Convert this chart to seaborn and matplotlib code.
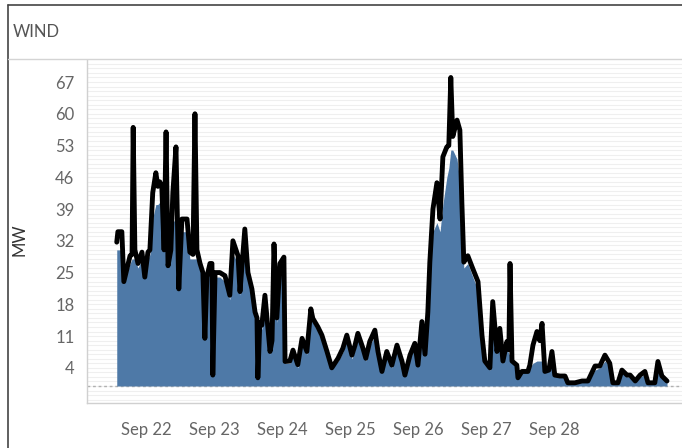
import pandas as pd
import matplotlib.pyplot as plt
import matplotlib.dates as mdates
from matplotlib.lines import Line2D
import seaborn as sns

# hours after Sep 22 00:00
hours = [-10.3, -9.9, -8.5, -7.8, -5.6, -4.9, -4.5, -3.9, -2.8, -1.4, -0.4, 0.7,
         1.4, 2.4, 3.5, 4.2, 4.9, 5.6, 6.4, 7.1, 7.8, 8.8, 9.5, 10.6,
         11.6, 12.7, 14.5, 15.5, 16.6, 17.3, 18, 19.1, 20.1, 20.8, 21.5, 22.6,
         23.3, 23.6, 24.4, 26.1, 27.9, 29.6, 30.7, 32.5, 33.2, 34.9, 36, 37.4,
         38.5, 39.2, 39.5, 40.2, 40.9, 42, 43.8, 44.5, 45.2, 46.2, 47.3, 48.7,
         49.1, 50.8, 51.9, 53.6, 55.1, 56.8, 58.2, 58.9, 60.7, 62.1, 63.9, 65.6,
         67.8, 69.5, 70.9, 72.7, 73.8, 74.8, 76.6, 77.6, 79, 80.8, 81.9, 83.3,
         85, 86.8, 88.6, 90.4, 91.4, 93.2, 94.9, 96, 97.4, 98.5, 99.5, 100.2,
         101.3, 102.7, 103.8, 104.8, 106.2, 106.9, 107.6, 108.3, 109.8, 110.8, 111.5, 112.2,
         113.6, 115.4, 117.2, 118.6, 119.6, 121.4, 122.4, 123.9, 124.9, 126, 127.4, 128.1,
         128.5, 129.2, 130.9, 131.3, 132.7, 134.8, 135.5, 136.6, 138, 139, 139.8, 140.8,
         142.2, 143.3, 144.3, 146.1, 147.9, 148.9, 151.4, 153.9, 156, 158.5, 160.2, 162,
         163.7, 164.8, 166.6, 168, 169.8, 170.9, 172.7, 174.4, 176.1, 177.2, 179.6, 180.7,
         182.1, 183.9]

line_mw = [31.7, 34, 34, 23, 28.7, 29, 57, 30, 27, 29.5, 24, 29.5,
           30, 42.6, 47, 44, 45, 44, 30, 56, 26.5, 30, 42.6, 52.7,
           21.4, 36.8, 36.8, 29.5, 29, 60, 30, 27, 25, 10.5, 24, 27,
           27, 2.4, 25, 25, 24.3, 20, 32, 28.7, 20.8, 34.6, 25, 21.4,
           16.3, 15, 1.8, 14, 13.4, 20, 7.6, 10, 31.3, 15, 27, 28.4,
           5.4, 5.5, 7.9, 4.7, 10.5, 7.6, 17, 14.9, 13, 11.2, 7.6, 4,
           6.1, 8.3, 11.2, 6.8, 9, 11.6, 8.3, 6.1, 9.8, 12.3, 7.6, 3.2,
           7.6, 4.6, 9, 5.4, 2.4, 6.8, 9.4, 4.6, 14.2, 7, 16.3, 27.3,
           39, 44.8, 36.8, 50.5, 52.7, 53, 68, 55, 58.6, 56.4, 40.5, 27.3,
           28.7, 25.8, 23, 11.2, 5.5, 4, 18.6, 7.6, 12.7, 5.5, 9.8, 8,
           27, 5.5, 4.6, 1.8, 3.2, 3.2, 4.6, 9, 12, 10, 13.8, 3.2,
           3.5, 7.6, 2.4, 2.2, 2.2, 0.7, 0.7, 1.1, 1.1, 4.4, 4.4, 6.8,
           5, 0.7, 0.7, 3.5, 2.4, 2.4, 1.1, 2.4, 3.2, 0.7, 0.7, 5.4,
           2.2, 1.1]

area_mw = [30, 30, 30, 23, 27, 28, 28, 28, 26, 28, 24, 28,
           29, 37, 40, 40, 40.5, 38, 30, 30, 26, 29, 36, 37,
           22, 34, 34, 28, 28, 28, 28, 26, 24, 12, 23, 26,
           26, 4, 24, 24, 23, 19, 29, 27, 20, 30, 24, 20,
           15, 14, 3, 13, 12.5, 18, 7, 9, 22, 14, 24, 25,
           5, 5, 7, 4, 9, 7, 15, 14, 12, 10, 7, 4,
           5.5, 7.5, 10, 6, 8, 10.5, 7.5, 5.5, 9, 11, 7, 3,
           7, 4, 8, 5, 2.5, 6, 8.5, 4.5, 12, 7, 15, 25,
           34, 36, 34, 40, 46, 48, 52, 52, 50, 45, 35, 26,
           27, 24, 21, 10, 5, 3.5, 14, 7, 11, 5, 8.5, 7,
           7, 5, 4, 1.5, 3, 3, 4, 5, 5.5, 5.5, 5.5, 3,
           3.3, 6, 2.2, 2, 2, 0.5, 0.5, 1, 1, 3.5, 4, 5.5,
           4.5, 0.5, 0.5, 3, 2, 2, 1, 2, 2.5, 0.5, 0.5, 3,
           2, 1]

y_ticks = [4, 11, 18, 25, 32, 39, 46, 53, 60, 67]
x_ticks = ['2019-09-22', '2019-09-23', '2019-09-24', '2019-09-25',
           '2019-09-26', '2019-09-27', '2019-09-28']

start = pd.Timestamp('2019-09-22')
df = pd.DataFrame({'time': start + pd.to_timedelta(hours, unit='h'),
                   'line': line_mw, 'area': area_mw})

sns.set_style('white')
plt.rcParams['font.family'] = ['Lato', 'DejaVu Sans']

W, H = 682, 448
fig = plt.figure(figsize=(W / 100, H / 100), dpi=100)
ax = fig.add_axes([87 / W, 1 - 403 / H, 1 - 87 / W, (403 - 60) / H])

# faint background gridlines every 1 MW
for v in range(-3, 72):
    ax.axhline(v, color='#efefef', lw=0.8, zorder=0)
ax.axhline(0, color='#b0b0b0', lw=1, ls=(0, (2, 2)), zorder=1)

ax.fill_between(df['time'], 0, df['area'], color='#4e79a7', lw=0, zorder=2)
sns.lineplot(data=df, x='time', y='line', ax=ax, color='black', lw=3.5,
             solid_joinstyle='round', solid_capstyle='round', zorder=3)

ax.set_ylim(-3.75, 71.85)
ax.set_xlim(start + pd.Timedelta(hours=-20.8), start + pd.Timedelta(hours=189.2))
ax.set_yticks(y_ticks)
ax.set_xticks(pd.to_datetime(x_ticks))
ax.xaxis.set_major_formatter(mdates.DateFormatter('%b %d'))
ax.tick_params(axis='x', length=5, width=0.8, color='#d9d9d9', pad=9,
               labelsize=12, labelcolor='#666666')
ax.tick_params(axis='y', length=0, pad=9, labelsize=12, labelcolor='#666666')
ax.set_xlabel('')
ax.set_ylabel('')

for s in ['top', 'right']:
    ax.spines[s].set_visible(False)
for s in ['left', 'bottom']:
    ax.spines[s].set_color('#d0d0d0')
    ax.spines[s].set_linewidth(1)

# outer frame and header
fig.add_artist(Line2D([8 / W, 1], [1 - 5 / H, 1 - 5 / H], color='#444444', lw=1.2))
fig.add_artist(Line2D([8 / W, 8 / W], [0, 1 - 5 / H], color='#444444', lw=1.2))
fig.add_artist(Line2D([8 / W, 1], [1 - 59 / H, 1 - 59 / H], color='#d4d4d4', lw=1))
fig.text(13 / W, 1 - 32 / H, 'WIND', fontsize=12, color='#555555', va='center', ha='left')
fig.text(20 / W, 1 - 240 / H, 'MW', fontsize=12, color='#333333', rotation=90,
         va='center', ha='center')

fig.savefig('out.png', dpi=100)
